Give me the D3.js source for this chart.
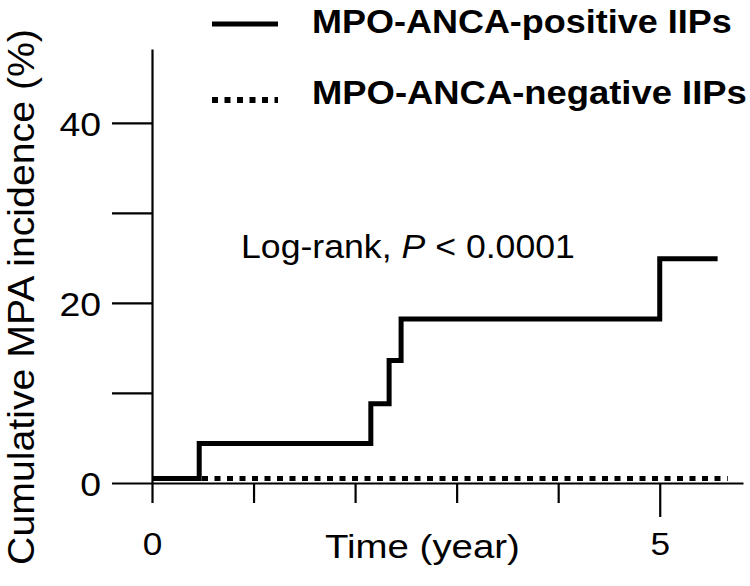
<!DOCTYPE html>
<html>
<head>
<meta charset="utf-8">
<script src="https://cdn.jsdelivr.net/npm/d3@7"></script>
<style>
  html, body { margin: 0; padding: 0; background: #fff; }
  svg { display: block; }
  text { font-family: "Liberation Sans", Arial, sans-serif; fill: #000; }
</style>
</head>
<body>
<svg id="chart" width="750" height="586"></svg>
<script>
// ---- data ----
const seriesNames = ["MPO-ANCA-positive IIPs", "MPO-ANCA-negative IIPs"];
const positiveTimes = [0, 0.465, 2.155, 2.335, 2.453, 5.0, 5.57];
const positiveValues = [0.5, 4.4, 8.8, 13.6, 18.2, 24.9, 24.9];
const negativeTimes = [0, 5.67];
const negativeValues = [0.5, 0.5];
const xTickValues = [0, 1, 2, 3, 4, 5];
const xTickLabels = ["0", "", "", "", "", "5"];
const yTickValues = [0, 10, 20, 30, 40];
const yTickLabels = ["0", "", "20", "", "40"];
const xTitle = "Time (year)";
const yTitle = "Cumulative MPA incidence (%)";
const annotation = ["Log-rank, ", "P", " < 0.0001"];

// ---- layout ----
const svg = d3.select("#chart");
svg.append("rect").attr("width", 750).attr("height", 586).attr("fill", "#fff");

const x = d3.scaleLinear().domain([0, 5.82]).range([152, 743]);
const y = d3.scaleLinear().domain([0, 48.2]).range([483, 49]);

function fit(sel, target) {
  const w = sel.node().getBBox().width;
  return w > 0 ? target / w : 1;
}

// y axis
const yAxis = svg.append("g")
  .attr("transform", `translate(${x(0)},0)`)
  .call(d3.axisLeft(y).tickValues(yTickValues).tickSize(40).tickSizeOuter(0).tickPadding(11)
    .tickFormat((d, i) => yTickLabels[i]));
yAxis.select(".domain").attr("stroke", "#000").attr("stroke-width", 2.2);
yAxis.selectAll(".tick line").attr("stroke", "#000").attr("stroke-width", 2.2);
yAxis.selectAll(".tick text")
  .attr("font-size", 34).attr("font-family", "Liberation Sans, Arial, sans-serif")
  .attr("dy", "0.36em")
  .each(function() {
    const t = d3.select(this);
    const k = 1.1;
    const xx = +t.attr("x");
    t.attr("transform", `translate(${xx},0) scale(${k},1) translate(${-xx},0)`);
  });

// x axis
const xAxis = svg.append("g")
  .attr("transform", `translate(0,${y(0)})`)
  .call(d3.axisBottom(x).tickValues(xTickValues).tickSize(20).tickSizeOuter(0)
    .tickFormat((d, i) => xTickLabels[i]));
xAxis.select(".domain").attr("stroke", "#000").attr("stroke-width", 2.2);
xAxis.selectAll(".tick line").attr("stroke", "#000").attr("stroke-width", 2.2)
  .attr("y2", d => d === 5 ? 34 : 20);
xAxis.selectAll(".tick text")
  .attr("font-size", 32).attr("font-family", "Liberation Sans, Arial, sans-serif")
  .attr("y", 72).attr("dy", 0)
  .attr("transform", "scale(1.1,1)");

// curves
const line = d3.line().x(d => x(d[0])).y(d => y(d[1])).curve(d3.curveStepAfter);
const posData = positiveTimes.map((t, i) => [t, positiveValues[i]]);
const negData = negativeTimes.map((t, i) => [t, negativeValues[i]]);

svg.append("path").datum(negData)
  .attr("d", line).attr("fill", "none").attr("stroke", "#000")
  .attr("stroke-width", 5).attr("stroke-dasharray", "6,6.5");

svg.append("path").datum(posData)
  .attr("d", line).attr("fill", "none").attr("stroke", "#000")
  .attr("stroke-width", 5).attr("stroke-linejoin", "miter");

// legend
const legendRows = [
  { name: seriesNames[0], ly: 24, ty: 33, w: 420, dash: null },
  { name: seriesNames[1], ly: 100, ty: 104, w: 435, dash: "6,6.5" }
];
legendRows.forEach(r => {
  svg.append("line").attr("x1", 212).attr("x2", 278).attr("y1", r.ly).attr("y2", r.ly)
    .attr("stroke", "#000").attr("stroke-width", r.dash ? 6 : 5)
    .attr("stroke-dasharray", r.dash);
  const t = svg.append("text").attr("font-size", 33).attr("font-weight", "bold")
    .attr("x", 0).attr("y", 0).text(r.name);
  const k = fit(t, r.w);
  t.attr("transform", `translate(312,${r.ty}) scale(${k},1)`);
});

// annotation
const ann = svg.append("text").attr("font-size", 34).attr("x", 0).attr("y", 0);
ann.append("tspan").text(annotation[0]);
ann.append("tspan").attr("font-style", "italic").text(annotation[1]);
ann.append("tspan").text(annotation[2]);
ann.attr("transform", `translate(241,258) scale(${fit(ann, 334)},1)`);

// x title
const xt = svg.append("text").attr("font-size", 34).attr("x", 0).attr("y", 0).text(xTitle);
xt.attr("transform", `translate(325,558) scale(${fit(xt, 195)},1)`);

// y title
const yt = svg.append("text").attr("font-size", 36).attr("x", 0).attr("y", 0)
  .attr("text-anchor", "middle").text(yTitle);
yt.attr("transform", `translate(34,297) rotate(-90) scale(${fit(yt, 536)},1)`);
</script>
</body>
</html>
